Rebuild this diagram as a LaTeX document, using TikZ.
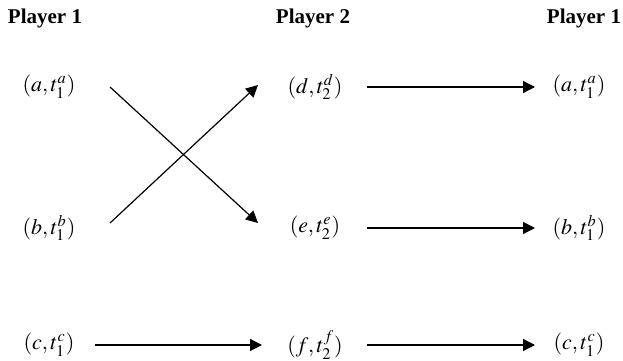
\documentclass[tikz,border=0pt]{standalone}
\usepackage{mathptmx}
\usepackage{fontspec}
\setmainfont{Liberation Serif}
\usetikzlibrary{arrows.meta}

\begin{document}
\begin{tikzpicture}[x=0.5pt, y=-0.5pt,
                    head node/.style={font=\bfseries\fontsize{10.5}{12}\selectfont, inner sep=0pt},
                    state node/.style={font=\fontsize{11}{13}\selectfont, inner sep=0pt},
                    move/.style={-{Triangle[length=6pt,width=6pt]}, line width=0.6pt}]

  \useasboundingbox (0,0) rectangle (623,360);

  \node[state node] (a1) at (49,87) {$(a,t_1^a)$};
  \node[state node] (d2) [right of=a1, node distance=133pt] {$(d,t_2^d)$};
  \node[state node] (a1r) [right of=d2, node distance=132pt] {$(a,t_1^a)$};

  \node[state node] (b1) [below of=a1, node distance=70.5pt] {$(b,t_1^b)$};
  \node[state node] (e2) [below of=d2, node distance=70.5pt] {$(e,t_2^e)$};
  \node[state node] (b1r) [below of=a1r, node distance=70.5pt] {$(b,t_1^b)$};

  \node[state node] (c1) [below of=b1, node distance=58.5pt] {$(c,t_1^c)$};
  \node[state node] (f2) [below of=e2, node distance=58.5pt] {$(f,t_2^f)$};
  \node[state node] (c1r) [below of=b1r, node distance=58.5pt] {$(c,t_1^c)$};

  \node[head node] (p1) [above of=a1, node distance=34.5pt, xshift=-2pt] {Player 1};
  \node[head node] (p2) [above of=d2, node distance=34.5pt, xshift=-1pt] {Player 2};
  \node[head node] (p1r) [above of=a1r, node distance=34.5pt, xshift=2.5pt] {Player 1};

  % crossing moves
  \draw[move] ([xshift=30.5pt]a1.center) -- ([xshift=-28.5pt,yshift=2.5pt]e2.center);
  \draw[move] ([xshift=30.5pt,yshift=2.5pt]b1.center) -- ([xshift=-28.5pt,yshift=1pt]d2.center);

  % straight moves
  \draw[move] ([xshift=26pt]d2.center) -- ([xshift=-22pt]a1r.center);
  \draw[move] ([xshift=26pt]e2.center) -- ([xshift=-22pt]b1r.center);
  \draw[move] ([xshift=23pt]c1.center) -- ([xshift=-26.5pt]f2.center);
  \draw[move] ([xshift=26pt]f2.center) -- ([xshift=-22pt]c1r.center);

\end{tikzpicture}
\end{document}
